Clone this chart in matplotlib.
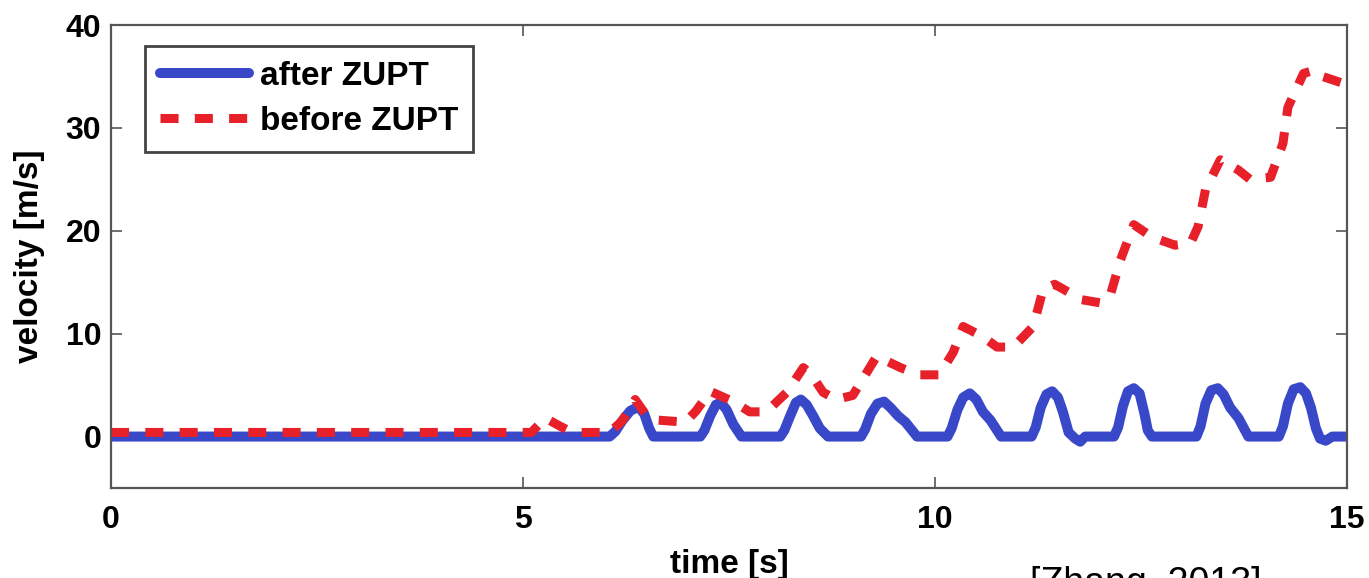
import matplotlib
matplotlib.use("Agg")
import matplotlib.pyplot as plt

# after ZUPT (blue)
t_after = [0, 6.05, 6.12, 6.2, 6.3, 6.4, 6.47, 6.53, 6.58,
           7.15, 7.2, 7.27, 7.34, 7.4, 7.47, 7.55, 7.65,
           8.12, 8.17, 8.24, 8.31, 8.37, 8.44, 8.52, 8.6, 8.7,
           9.1, 9.15, 9.22, 9.3, 9.38, 9.46, 9.55, 9.64, 9.78,
           10.15, 10.2, 10.27, 10.34, 10.42, 10.5, 10.58, 10.67, 10.8,
           11.17, 11.22, 11.28, 11.35, 11.42, 11.49, 11.55, 11.62, 11.7, 11.76, 11.82,
           12.17, 12.22, 12.28, 12.34, 12.41, 12.48, 12.54, 12.58, 12.63,
           13.17, 13.22, 13.28, 13.35, 13.43, 13.5, 13.58, 13.68, 13.8,
           14.17, 14.22, 14.28, 14.35, 14.43, 14.5, 14.56, 14.62, 14.67, 14.74, 14.82, 15]
v_after = [0, 0, 0.5, 1.5, 2.5, 2.9, 2.2, 0.8, 0,
           0, 0.6, 2.0, 3.1, 3.3, 2.6, 1.2, 0,
           0, 0.6, 2.0, 3.3, 3.6, 3.1, 2.0, 0.8, 0,
           0, 0.7, 2.2, 3.2, 3.4, 2.8, 2.0, 1.4, 0,
           0, 0.8, 2.6, 3.8, 4.2, 3.6, 2.4, 1.6, 0,
           0, 0.9, 2.8, 4.1, 4.4, 3.8, 2.4, 0.4, -0.2, -0.5, 0,
           0, 0.9, 3.0, 4.4, 4.7, 4.2, 2.2, 0.6, 0,
           0, 1.0, 3.2, 4.5, 4.7, 4.1, 2.8, 1.8, 0,
           0, 1.0, 3.2, 4.6, 4.8, 4.2, 2.8, 0.8, -0.2, -0.4, 0, 0]

# before ZUPT (red dashed)
t_before = [0, 5.1, 5.27, 5.45, 5.6, 6.05, 6.2, 6.36, 6.5, 6.63, 6.97, 7.1, 7.27, 7.55, 7.75, 7.95,
            8.2, 8.4, 8.5, 8.64, 8.8, 9.0, 9.29, 9.58, 9.8, 10.05, 10.22, 10.34, 10.58, 10.75, 10.95,
            11.19, 11.31, 11.45, 11.56, 11.78, 12.0, 12.12, 12.25, 12.41, 12.63, 12.91, 13.1, 13.19,
            13.28, 13.46, 13.68, 13.82, 14.07, 14.22, 14.28, 14.47, 14.6, 14.7, 15.0]
v_before = [0.4, 0.4, 1.8, 1.0, 0.4, 0.4, 1.5, 3.6, 2.0, 1.6, 1.4, 2.5, 4.4, 3.4, 2.4, 2.4,
            4.3, 6.7, 6.0, 4.3, 3.6, 4.0, 7.8, 6.7, 6.0, 6.0, 8.2, 10.7, 9.7, 8.7, 8.7,
            10.7, 14.3, 14.8, 14.3, 13.3, 13.0, 13.6, 17.2, 20.6, 19.4, 18.6, 18.8, 20.4,
            24.0, 26.9, 25.9, 25.0, 25.2, 28.5, 32.0, 35.3, 35.6, 35.0, 34.2]

x_ticks = [0, 5, 10, 15]
y_ticks = [0, 10, 20, 30, 40]

plt.rcParams['font.family'] = ['Liberation Sans', 'DejaVu Sans']

fig = plt.figure(figsize=(13.69, 5.78), dpi=100)
ax = fig.add_axes([0.0811, 0.1557, 0.903, 0.801])

ax.plot(t_after, v_after, color='#3848c8', lw=7.2, solid_joinstyle='round',
        solid_capstyle='round', label='after ZUPT')
ax.plot(t_before, v_before, color='#e8202a', lw=6.5, dashes=(2.0, 1.8), label='before ZUPT')

ax.set_xlim(0, 15)
ax.set_ylim(-5, 40)
ax.set_xticks(x_ticks)
ax.set_yticks(y_ticks)
ax.tick_params(direction='in', length=8, width=1.2, color='#555555', top=True, right=True,
               labelsize=23)
ax.tick_params(axis='x', pad=12)
ax.tick_params(axis='y', pad=7)
for lab in ax.get_xticklabels() + ax.get_yticklabels():
    lab.set_fontweight('bold')
for sp in ax.spines.values():
    sp.set_color('#555555')
    sp.set_linewidth(1.6)

ax.set_xlabel('time [s]', fontsize=24, fontweight='bold', labelpad=10)
ax.set_ylabel('velocity [m/s]', fontsize=24, fontweight='bold', labelpad=15)

leg = ax.legend(loc='upper left', bbox_to_anchor=(0.0275, 0.955), borderaxespad=0,
                prop={'weight': 'bold', 'size': 24}, handlelength=2.67,
                handletextpad=0.33, fancybox=False, framealpha=1, borderpad=0.45,
                labelspacing=0.42)
leg.get_frame().set_edgecolor('#444444')
leg.get_frame().set_linewidth(2)

fig.text(1030 / 1369, -0.028, '[Zhang, 2013]', fontsize=27, ha='left', va='baseline')

fig.savefig('out.png', dpi=100)
